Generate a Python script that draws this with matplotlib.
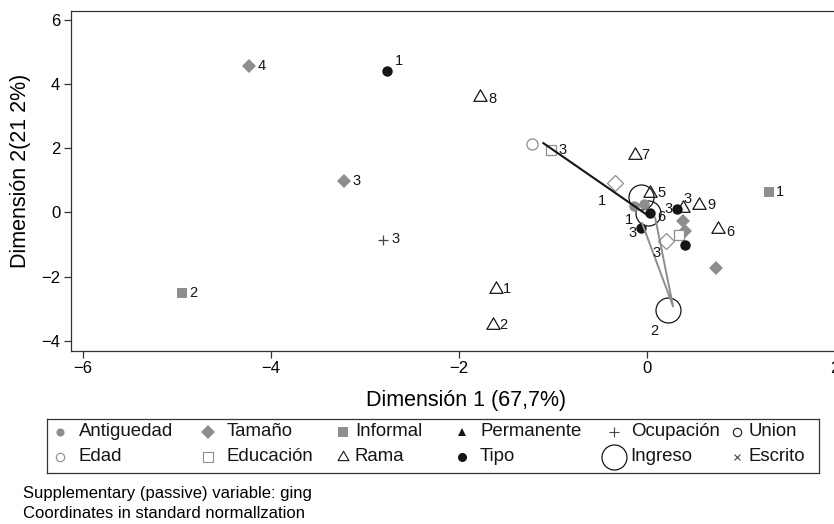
import numpy as np
import matplotlib
matplotlib.use("Agg")
import matplotlib.pyplot as plt
from matplotlib.path import Path

plt.rcParams['font.family'] = ['Liberation Sans', 'DejaVu Sans']

GRAY = '#8e8e8e'
BLACK = '#151515'

# --- coordinates (dimension 1, dimension 2) ---
antig_x = [-0.14, -0.03]
antig_y = [0.21, 0.26]
antig_lab = ["1", ""]

tamano_x = [-4.23, -3.22, 0.39, 0.41, 0.74]
tamano_y = [4.58, 0.99, -0.28, -0.57, -1.73]
tamano_lab = ["4", "3", "", "", ""]

informal_x = [1.30, -4.95]
informal_y = [0.63, -2.51]
informal_lab = ["1", "2"]

ocup_x = [-2.81]
ocup_y = [-0.87]
ocup_lab = ["3"]

edad_x = [-1.22]
edad_y = [2.13]
edad_lab = [""]

educ_x = [-1.02, 0.34]
educ_y = [1.95, -0.69]
educ_lab = ["3", ""]

rama_x = [-1.77, -0.12, 0.035, 0.39, 0.56, 0.76, -1.60, -1.64]
rama_y = [3.59, 1.80, 0.62, 0.14, 0.24, -0.52, -2.39, -3.50]
rama_lab = ["8", "7", "5", "3", "9", "6", "1", "2"]

tipo_x = [-2.76, 0.03, -0.06, 0.32, 0.41]
tipo_y = [4.42, -0.02, -0.49, 0.11, -1.01]
tipo_lab = ["1", "6", "3", "3", ""]

ingreso_x = [-0.06, 0.01, 0.23]
ingreso_y = [0.49, -0.02, -3.03]
ingreso_lab = ["", "", "2"]

# open diamonds (supplementary points)
supl_x = [-0.34, 0.21]
supl_y = [0.92, -0.90]
supl_lab = ["1", "3"]

# connecting lines
black_line_x = [-1.10, 0.00]
black_line_y = [2.16, -0.07]
gray_line_x = [-0.05, 0.28, 0.09]
gray_line_y = [-0.33, -2.93, -0.17]

legend_labels = ["Antiguedad", "Tamaño", "Informal", "Permanente", "Ocupación", "Union",
                 "Edad", "Educación", "Rama", "Tipo", "Ingreso", "Escrito"]

# label offsets in pixels (right, up)
R = (12, 0)
offsets = {
    'antig': [(-5, -14), R],
    'tamano': [R, R, R, R, R],
    'informal': [(11, 0), R],
    'ocup': [(13, 1)],
    'edad': [R],
    'educ': [R, R],
    'rama': [(12, -2), (10, 0), (11, 0), (4, 9), (12, 0), (12, -3), (11, 0), (11, 0)],
    'tipo': [(12, 10), (12, -4), (-9, -5), (-8, 0), R],
    'ingreso': [R, R, (-14, -21)],
    'supl': [(-13, -18), (-10, -12)],
}

# equilateral open triangle, closed path
tri = Path([(-1, -0.577), (1, -0.577), (0, 1.155), (-1, -0.577)],
           [Path.MOVETO, Path.LINETO, Path.LINETO, Path.CLOSEPOLY])

fig = plt.figure(figsize=(8.34, 5.24), dpi=100)
W, H = 834, 524
ax = fig.add_axes([70.7 / W, 1 - 350.7 / H, (848.8 - 70.7) / W, (350.7 - 11) / H])
ax.set_xlim(-6.13, 2.15)
ax.set_ylim(-4.31, 6.28)


def draw(xs, ys, labs, offs, **style):
    ax.plot(xs, ys, linestyle='none', **style)
    for x, y, t, (dx, dy) in zip(xs, ys, labs, offs):
        if t:
            ax.annotate(t, (x, y), xytext=(dx, dy), textcoords='offset pixels',
                        ha='center', va='center', fontsize=10.5, color=BLACK, zorder=6)


draw(ingreso_x, ingreso_y, ingreso_lab, offsets['ingreso'], marker='o', ms=18,
     mfc='none', mec=BLACK, mew=0.9, zorder=2)
draw(antig_x, antig_y, antig_lab, offsets['antig'], marker='o', ms=7.5,
     mfc=GRAY, mec=GRAY, mew=0, zorder=3)
draw(tamano_x, tamano_y, tamano_lab, offsets['tamano'], marker='D', ms=7.1,
     mfc=GRAY, mec=GRAY, mew=0, zorder=3)
draw(informal_x, informal_y, informal_lab, offsets['informal'], marker='s', ms=7.6,
     mfc=GRAY, mec=GRAY, mew=0, zorder=3)
draw(ocup_x, ocup_y, ocup_lab, offsets['ocup'], marker='+', ms=7,
     mec='#444444', mew=0.9, zorder=3)
draw(edad_x, edad_y, edad_lab, offsets['edad'], marker='o', ms=8,
     mfc='none', mec=GRAY, mew=0.9, zorder=3)
draw(educ_x, educ_y, educ_lab, offsets['educ'], marker='s', ms=7.6,
     mfc='white', mec=GRAY, mew=0.9, zorder=3)
draw(supl_x, supl_y, supl_lab, offsets['supl'], marker='D', ms=8,
     mfc='white', mec=GRAY, mew=0.9, zorder=3)
draw(rama_x, rama_y, rama_lab, offsets['rama'], marker=tri, ms=11,
     mfc='none', mec=BLACK, mew=0.9, zorder=3)
draw(tipo_x, tipo_y, tipo_lab, offsets['tipo'], marker='o', ms=7.5,
     mfc=BLACK, mec=BLACK, mew=0, zorder=4)

ax.plot(black_line_x, black_line_y, color=BLACK, lw=1.5, zorder=5)
ax.plot(gray_line_x, gray_line_y, color=GRAY, lw=1.4, zorder=5)

for s in ax.spines.values():
    s.set_color('#333333')
    s.set_linewidth(0.9)
ax.set_xticks([-6, -4, -2, 0, 2])
ax.set_yticks([-4, -2, 0, 2, 4, 6])
ax.tick_params(direction='out', length=5, width=0.9, color='#333333',
               labelsize=12, pad=2.5)

ax.set_xlabel("Dimensión 1 (67,7%)", fontsize=15.5)
ax.xaxis.label.set_va('center')
ax.xaxis.set_label_coords((466 - 70.7) / 778.1, (350.7 - 400.7) / 339.7)
ax.set_ylabel("Dimensión 2(21 2%)", fontsize=15.5)
ax.yaxis.label.set_va('center')
ax.yaxis.set_label_coords((20.7 - 70.7) / 778.1, (350.7 - 171) / 339.7)

# legend box (pixel layout)
lx0, lx1, ly0, ly1 = 46.7, 819, 419.3, 472.7
lax = fig.add_axes([lx0 / W, 1 - ly1 / H, (lx1 - lx0) / W, (ly1 - ly0) / H])
lax.set_xlim(lx0, lx1)
lax.set_ylim(ly1, ly0)
lax.set_xticks([])
lax.set_yticks([])
for s in lax.spines.values():
    s.set_color('#333333')
    s.set_linewidth(0.9)

col_marker = [60, 208, 342.7, 461.7, 614, 736.7]
col_text = [79, 226.7, 355, 480, 630.7, 749]
row_y = [431.7, 456.7]
leg_styles = [
    dict(marker='o', ms=5.8, mfc=GRAY, mec=GRAY, mew=0),
    dict(marker='D', ms=7.1, mfc=GRAY, mec=GRAY, mew=0),
    dict(marker='s', ms=6.5, mfc=GRAY, mec=GRAY, mew=0),
    dict(marker='^', ms=6.2, mfc=BLACK, mec=BLACK, mew=0),
    dict(marker='+', ms=6.5, mec='#444444', mew=0.8),
    dict(marker='o', ms=6.0, mfc='none', mec=BLACK, mew=0.8),
    dict(marker='o', ms=6.0, mfc='none', mec=GRAY, mew=0.8),
    dict(marker='s', ms=6.8, mfc='none', mec=GRAY, mew=0.8),
    dict(marker=tri, ms=9, mfc='none', mec=BLACK, mew=0.8),
    dict(marker='o', ms=6.5, mfc=BLACK, mec=BLACK, mew=0),
    dict(marker='o', ms=18, mfc='none', mec=BLACK, mew=0.9),
    dict(marker='x', ms=5.0, mec='#444444', mew=0.8),
]
for i, (lab, st) in enumerate(zip(legend_labels, leg_styles)):
    r, c = divmod(i, 6)
    lax.plot([col_marker[c]], [row_y[r]], linestyle='none', clip_on=False, **st)
    lax.text(col_text[c], row_y[r], lab, ha='left', va='center', fontsize=13.4, color=BLACK)

fig.text(22.7 / W, 1 - 493.3 / H, "Supplementary (passive) variable: ging",
         ha='left', va='center', fontsize=12)
fig.text(22.7 / W, 1 - 513.3 / H, "Coordinates in standard normallzation",
         ha='left', va='center', fontsize=12)

fig.savefig('out.png', dpi=100)
